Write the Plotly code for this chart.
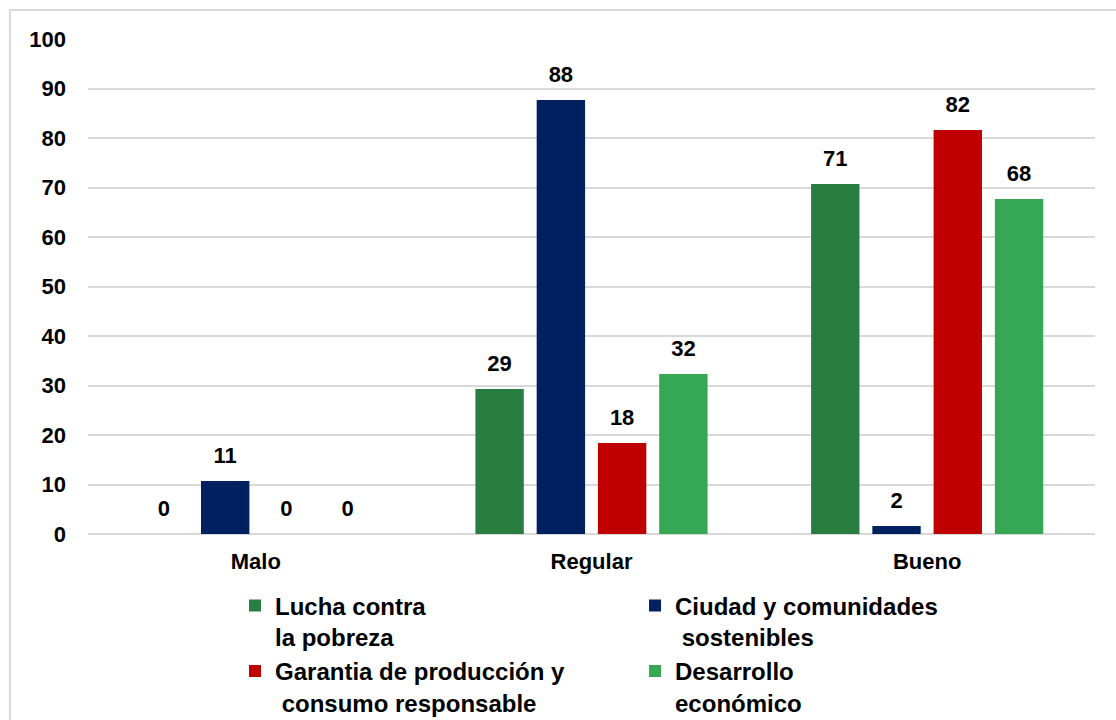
import plotly.graph_objects as go

categories = ["Malo", "Regular", "Bueno"]
series_names = [
    "Lucha contra<br>la pobreza",
    "Ciudad y comunidades<br>&nbsp;sostenibles",
    "Garantia de producción y<br>&nbsp;consumo responsable",
    "Desarrollo<br>económico",
]
lucha = [0, 29.3, 70.7]
ciudad = [10.7, 87.7, 1.6]
garantia = [0, 18.4, 81.6]
desarrollo = [0, 32.3, 67.7]
colors = ["#2A7D41", "#002060", "#C00000", "#36A853"]
y_ticks = list(range(0, 101, 10))

FONT = "Liberation Sans, Arial, sans-serif"
all_series = [lucha, ciudad, garantia, desarrollo]

fig = go.Figure()
for name, vals, col in zip(series_names, all_series, colors):
    fig.add_trace(go.Bar(
        x=categories, y=vals, name=name,
        marker=dict(color=col, line=dict(width=0)),
        cliponaxis=False,
    ))
# value labels, grouped like the bars
for vals in all_series:
    fig.add_trace(go.Scatter(
        x=categories, y=vals, mode="markers+text",
        text=[f"{v:.0f}" for v in vals], textposition="top center",
        marker=dict(size=18, opacity=0),
        textfont=dict(family=FONT, size=22, color="#000000", weight="bold"),
        showlegend=False, hoverinfo="skip", cliponaxis=False,
    ))

fig.update_layout(
    width=1116, height=720,
    margin=dict(l=88, r=21, t=39, b=186, autoexpand=False),
    paper_bgcolor="white", plot_bgcolor="white",
    barmode="group", bargap=0.27, bargroupgap=0.21,
    scattermode="group", scattergap=0.27,
    font=dict(family=FONT, size=22, color="#000000"),
    showlegend=True,
    legend=dict(
        orientation="h", x=0.146, xanchor="left", y=-0.1, yanchor="top",
        entrywidth=355, entrywidthmode="pixels", valign="top",
        font=dict(family=FONT, size=24, color="#000000", weight="bold"),
        bgcolor="rgba(0,0,0,0)",
        traceorder="normal", itemsizing="constant",
    ),
    xaxis=dict(
        showgrid=False, showline=False, zeroline=False, ticks="",
        tickfont=dict(family=FONT, size=22, color="#000000", weight="bold"),
        ticklabelstandoff=12,
    ),
    yaxis=dict(
        range=[0, 100], tickvals=y_ticks, showgrid=True, gridcolor="#D9D9D9", gridwidth=1.5,
        zeroline=True, zerolinecolor="#D9D9D9", zerolinewidth=1.5, showline=False, ticks="",
        tickfont=dict(family=FONT, size=22, color="#000000", weight="bold"),
        ticklabelstandoff=21,
    ),
    shapes=[dict(
        type="rect", xref="paper", yref="paper",
        x0=-0.0775, x1=1.2, y0=-0.6, y1=1.0586,
        line=dict(color="#D9D9D9", width=2), fillcolor="rgba(0,0,0,0)", layer="below",
    )],
)

fig.write_html("out.html", config={"displayModeBar": False},
               post_script="document.body.style.margin='0';")
